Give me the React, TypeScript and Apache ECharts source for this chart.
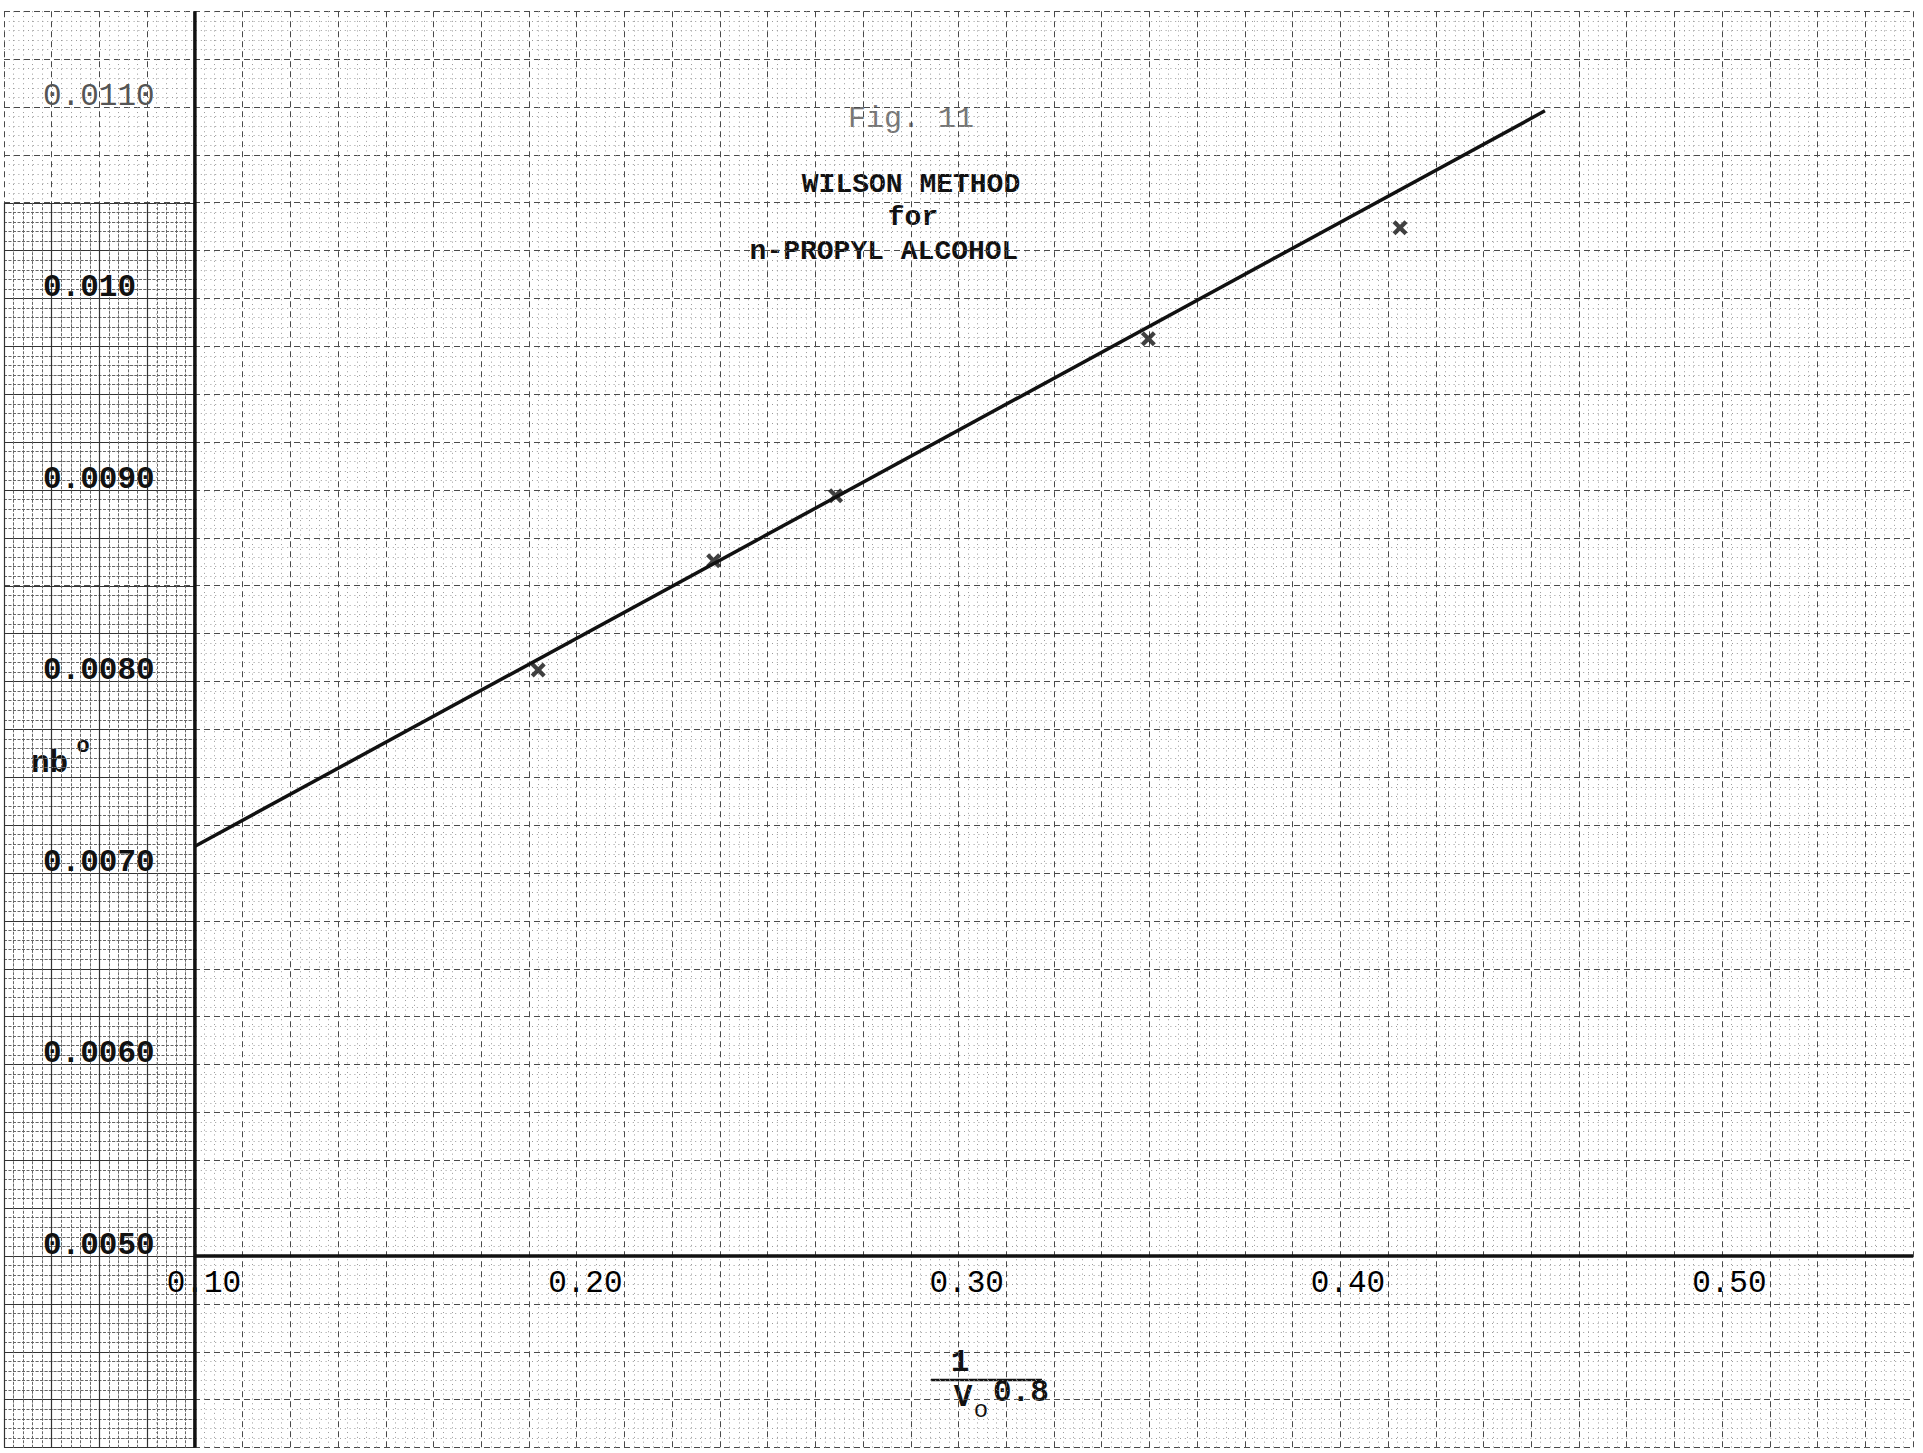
import React, { useEffect, useRef } from "react";
import * as echarts from "echarts";

// ---- data ----
const pointX = [0.190, 0.236, 0.268, 0.350, 0.416];
const pointY = [0.00806, 0.00863, 0.00897, 0.00979, 0.01037];
const fitX = [0.10, 0.454];
const fitY = [0.00714, 0.01098];
const xTickValues = [0.10, 0.20, 0.30, 0.40, 0.50];
const xTickLabels = ["0.10", "0.20", "0.30", "0.40", "0.50"];
const yTickValues = [0.005, 0.006, 0.007, 0.008, 0.009, 0.010, 0.011];
const yTickLabels = ["0.0050", "0.0060", "0.0070", "0.0080", "0.0090", "0.010", "0.0110"];
const titleLines = ["Fig. 11", "WILSON METHOD", "for", "n-PROPYL ALCOHOL"];
const xTitleNum = "1";
const xTitleV = "V";
const xTitleSub = "o";
const xTitleExp = "0.8";
const yTitle = "nb";
const yTitleSup = "o";

// paper / axis ranges
const paperX = [0.05, 0.55];
const paperY = [0.004, 0.0115];
const originX = 0.10;
const originY = 0.005;

const FONT = "'Liberation Mono', 'DejaVu Sans Mono', monospace";

function findLabel(values: number[], labels: string[], v: number) {
  for (let i = 0; i < values.length; i++) {
    if (Math.abs(values[i] - v) < 1e-7) return labels[i];
  }
  return "";
}

export default function App() {
  const ref = useRef<HTMLDivElement>(null);
  useEffect(() => {
    if (!ref.current) return;
    const chart = echarts.init(ref.current, undefined, { renderer: "svg" });
    const majorLine = { show: true, lineStyle: { color: "#4a4a4a", width: 1, type: [6, 4] as any } };
    const minorLine = { show: true, lineStyle: { color: "#9a9a9a", width: 1, type: [1, 3.8] as any } };
    const hidden = { show: false };
    const option: any = {
      animation: false,
      backgroundColor: "#ffffff",
      grid: [
        { left: 4, right: 10, top: 11.25, bottom: 5.5 },
        { left: 195, right: 10, top: 11.25, bottom: 197 },
        { left: 4, width: 191, top: 202.75, bottom: 5.5 },
      ],
      xAxis: [
        {
          type: "value", gridIndex: 0, min: paperX[0], max: paperX[1], interval: 0.0125,
          axisLine: hidden, axisTick: hidden, axisLabel: hidden,
          splitLine: majorLine,
          minorTick: { show: false, splitNumber: 5 },
          minorSplitLine: minorLine,
        },
        {
          type: "value", gridIndex: 1, min: originX, max: paperX[1], interval: 0.1,
          axisLine: hidden, axisTick: hidden, splitLine: hidden,
          axisLabel: {
            show: true, fontFamily: FONT, fontSize: 31, color: "#000",
            margin: 12, lineHeight: 30, padding: [0, 0, 0, 18],
            formatter: (v: number) => findLabel(xTickValues, xTickLabels, v),
          },
        },
        {
          type: "value", gridIndex: 2, min: 0.05, max: 0.10, interval: 0.0125,
          axisLine: hidden, axisTick: hidden, axisLabel: hidden,
          splitLine: { show: true, lineStyle: { color: "#333", width: 1.2 } },
          minorTick: { show: false, splitNumber: 5 },
          minorSplitLine: { show: true, lineStyle: { color: "#666", width: 1, type: [3, 1.5] } },
        },
      ],
      yAxis: [
        {
          type: "value", gridIndex: 0, min: paperY[0], max: paperY[1], interval: 0.00025,
          axisLine: hidden, axisTick: hidden, axisLabel: hidden,
          splitLine: majorLine,
          minorTick: { show: false, splitNumber: 5 },
          minorSplitLine: minorLine,
        },
        {
          type: "value", gridIndex: 1, min: originY, max: paperY[1], interval: 0.001,
          axisLine: hidden, axisTick: hidden, splitLine: hidden,
          axisLabel: {
            show: true, align: "left", verticalAlign: "bottom", margin: 152,
            formatter: (v: number) => {
              const s = findLabel(yTickValues, yTickLabels, v);
              if (!s) return "";
              return Math.abs(v - 0.011) < 1e-7 ? `{n|${s}}` : `{b|${s}}`;
            },
            rich: {
              n: { fontFamily: FONT, fontSize: 31, color: "#555", fontWeight: "normal", lineHeight: 22 },
              b: { fontFamily: FONT, fontSize: 31, color: "#111", fontWeight: "bold", lineHeight: 22 },
            },
          },
        },
        {
          type: "value", gridIndex: 2, min: 0.004, max: 0.0105, interval: 0.00025,
          axisLine: hidden, axisTick: hidden, axisLabel: hidden,
          splitLine: { show: true, lineStyle: { color: "#333", width: 1.2 } },
          minorTick: { show: false, splitNumber: 5 },
          minorSplitLine: { show: true, lineStyle: { color: "#666", width: 1, type: [3, 1.5] } },
        },
      ],
      series: [
        {
          name: "y axis", type: "line", xAxisIndex: 0, yAxisIndex: 0, symbol: "none",
          lineStyle: { color: "#111", width: 3.5 },
          data: [[originX, paperY[0]], [originX, paperY[1]]],
          silent: true,
        },
        {
          name: "x axis", type: "line", xAxisIndex: 0, yAxisIndex: 0, symbol: "none",
          lineStyle: { color: "#111", width: 3.5 },
          data: [[originX, originY], [paperX[1], originY]],
          silent: true,
        },
        {
          name: "fit", type: "line", xAxisIndex: 1, yAxisIndex: 1, symbol: "none",
          lineStyle: { color: "#111", width: 3.5 },
          data: fitX.map((x, i) => [x, fitY[i]]),
        },
        {
          name: "measured", type: "scatter", xAxisIndex: 1, yAxisIndex: 1,
          symbol: "path://M2,0 L5,3 L8,0 L10,2 L7,5 L10,8 L8,10 L5,7 L2,10 L0,8 L3,5 L0,2 Z",
          symbolSize: 15,
          itemStyle: { color: "#111" },
          data: pointX.map((x, i) => [x, pointY[i]]),
        },
      ],
      graphic: [
        { type: "text", x: 911, y: 119, style: { text: titleLines[0], font: `normal 30px ${FONT}`, fill: "#777", align: "center", verticalAlign: "middle" } },
        { type: "text", x: 911, y: 184, style: { text: titleLines[1], font: `bold 28px ${FONT}`, fill: "#111", align: "center", verticalAlign: "middle" } },
        { type: "text", x: 913, y: 217, style: { text: titleLines[2], font: `bold 28px ${FONT}`, fill: "#111", align: "center", verticalAlign: "middle" } },
        { type: "text", x: 884, y: 251, style: { text: titleLines[3], font: `bold 28px ${FONT}`, fill: "#111", align: "center", verticalAlign: "middle" } },
        { type: "text", x: 960, y: 1362, style: { text: xTitleNum, font: `bold 31px ${FONT}`, fill: "#111", align: "center", verticalAlign: "middle" } },
        { type: "line", shape: { x1: 931, y1: 1380, x2: 1042, y2: 1380 }, style: { stroke: "#111", lineWidth: 2.5 } },
        { type: "text", x: 963, y: 1397, style: { text: xTitleV, font: `bold 31px ${FONT}`, fill: "#111", align: "center", verticalAlign: "middle" } },
        { type: "text", x: 981, y: 1410, style: { text: xTitleSub, font: `normal 24px ${FONT}`, fill: "#111", align: "center", verticalAlign: "middle" } },
        { type: "text", x: 993, y: 1392, style: { text: xTitleExp, font: `bold 31px ${FONT}`, fill: "#111", align: "left", verticalAlign: "middle" } },
        { type: "text", x: 31, y: 763, style: { text: yTitle, font: `bold 31px ${FONT}`, fill: "#111", align: "left", verticalAlign: "middle" } },
        { type: "text", x: 83, y: 746, style: { text: yTitleSup, font: `bold 22px ${FONT}`, fill: "#111", align: "center", verticalAlign: "middle" } },
      ],
    };
    chart.setOption(option);
    return () => chart.dispose();
  }, []);
  return (
    <div style={{ position: "fixed", left: 0, top: 0, width: 1923, height: 1453, background: "#fff" }}>
      <div ref={ref} style={{ width: 1923, height: 1453 }} />
    </div>
  );
}
